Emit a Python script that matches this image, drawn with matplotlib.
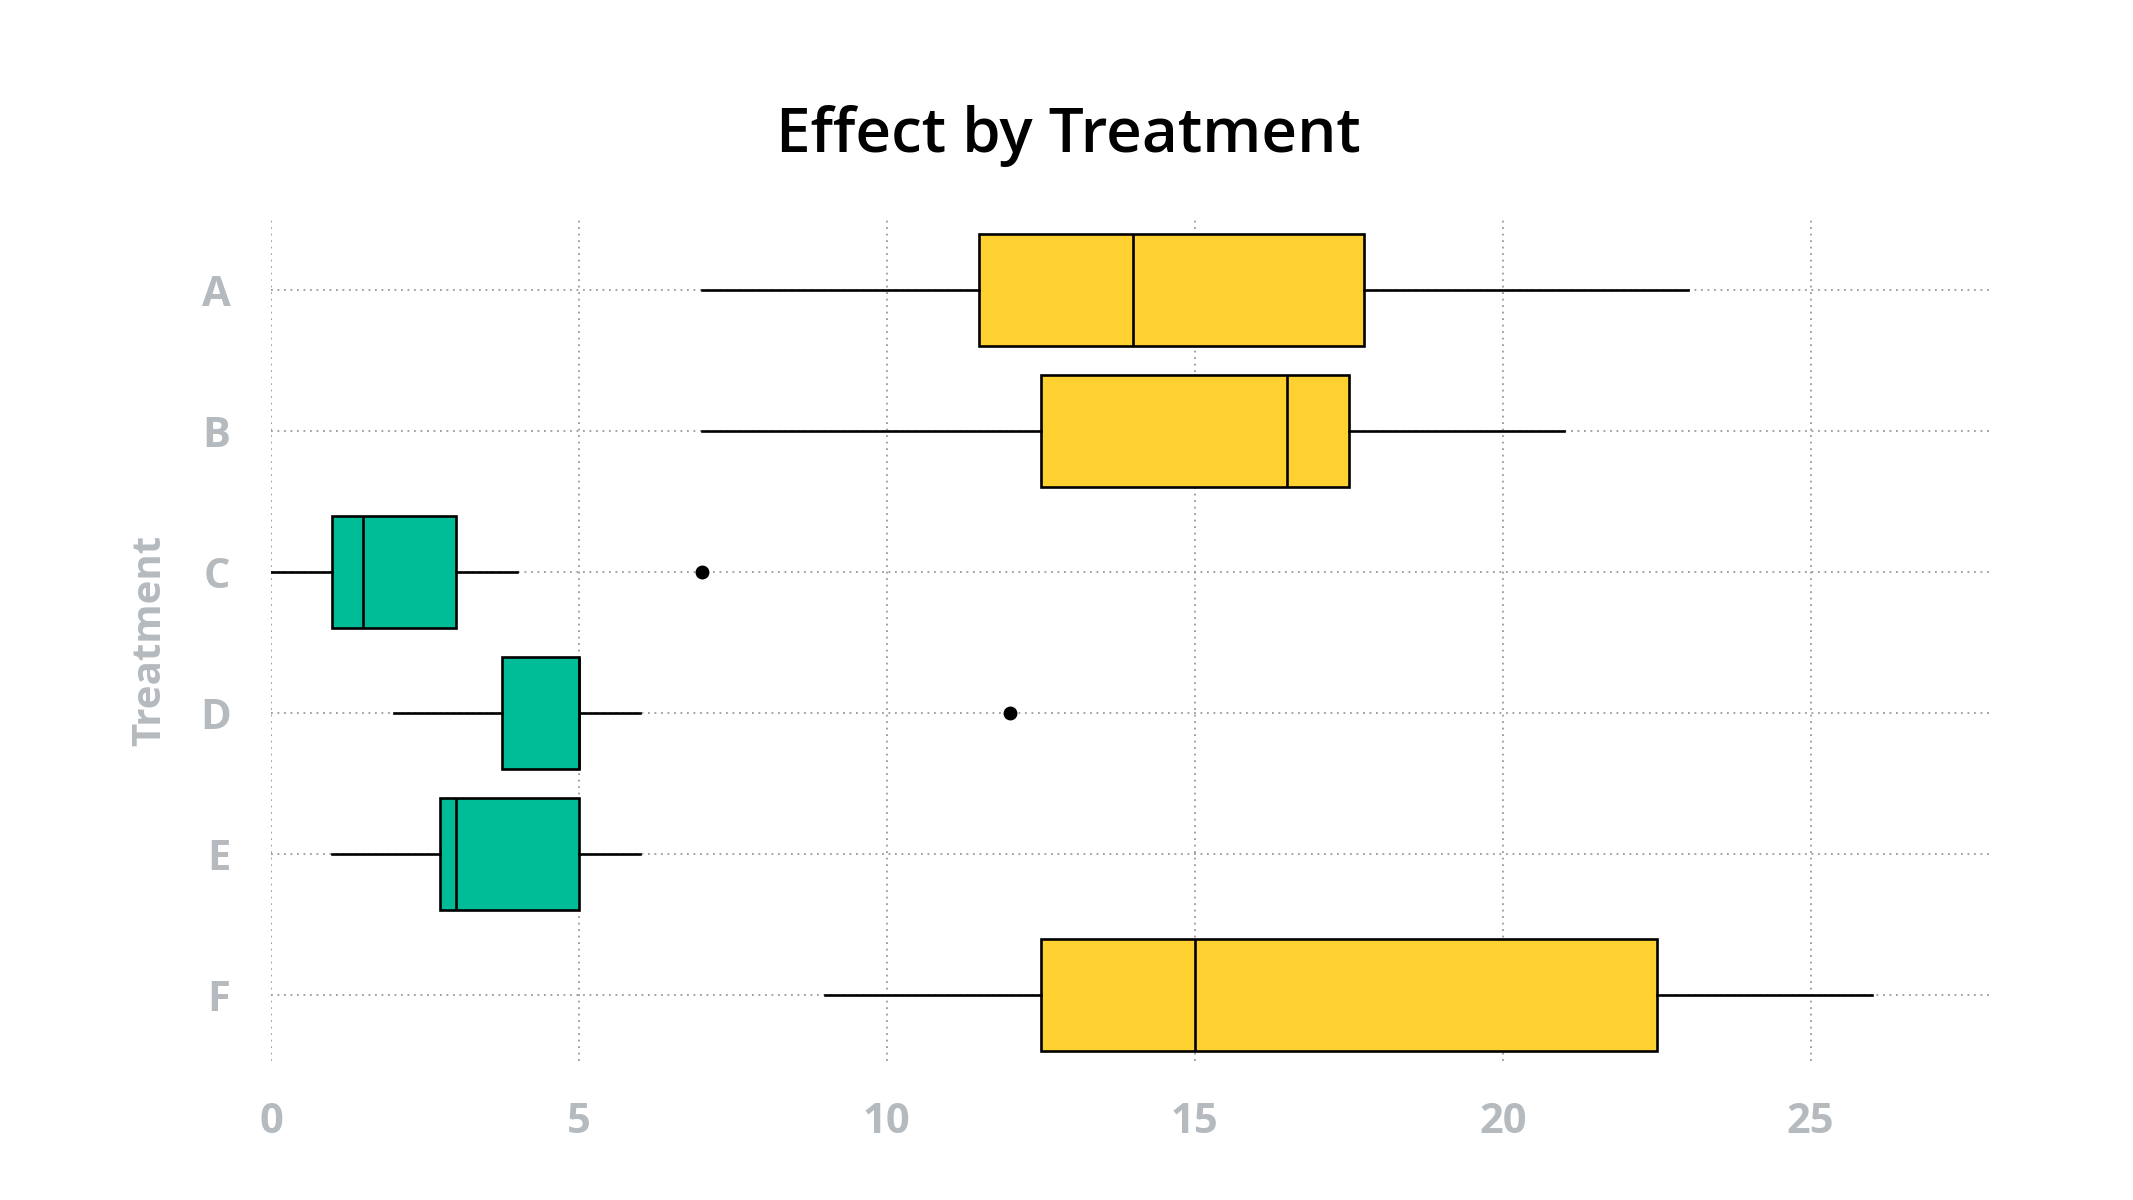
import matplotlib
matplotlib.use("Agg")
import matplotlib.pyplot as plt

# data
treatments = ["A", "B", "C", "D", "E", "F"]
whisk_lo = [7, 7, 0, 2, 1, 9]
q1 = [11.5, 12.5, 1, 3.75, 2.75, 12.5]
median = [14, 16.5, 1.5, 5, 3, 15]
q3 = [17.75, 17.5, 3, 5, 5, 22.5]
whisk_hi = [23, 21, 4, 6, 6, 26]
outliers = [[], [], [7], [12], [], []]
box_colors = ["#fed130", "#fed130", "#00bc97", "#00bc97", "#00bc97", "#fed130"]

tick_grey = "#b5babf"
plt.rcParams['font.family'] = ['Open Sans', 'DejaVu Sans']

fig = plt.figure(figsize=(21.33, 12), dpi=100)
ax = fig.add_axes([0.127, 0.1155, 0.8071, 0.7015])

stats = []
for i, name in enumerate(treatments):
    stats.append(dict(label=name, whislo=whisk_lo[i], q1=q1[i], med=median[i],
                      q3=q3[i], whishi=whisk_hi[i], fliers=outliers[i]))

res = ax.bxp(stats, positions=range(len(treatments)), vert=False, widths=0.79,
             patch_artist=True, showcaps=False,
             boxprops=dict(edgecolor="black", linewidth=1.9),
             medianprops=dict(color="black", linewidth=1.9),
             whiskerprops=dict(color="black", linewidth=1.9),
             flierprops=dict(marker="o", markerfacecolor="black",
                             markeredgecolor="black", markersize=9))
for patch, c in zip(res["boxes"], box_colors):
    patch.set_facecolor(c)
    patch.set_zorder(3)
for key in ["medians", "whiskers", "fliers"]:
    for ln in res[key]:
        ln.set_zorder(4)

ax.set_xlim(0, 27.95)
ax.set_ylim(5.47, -0.5)
ax.set_xticks([0, 5, 10, 15, 20, 25])
ax.set_yticks(range(len(treatments)))
ax.set_yticklabels(treatments)

ax.grid(True, linestyle=(0, (1, 2.6)), linewidth=1.3, color="#9a9a9a", zorder=0)
ax.set_axisbelow(True)
for s in ax.spines.values():
    s.set_visible(False)
ax.tick_params(length=0)
ax.tick_params(axis="x", pad=29, labelsize=30, labelcolor=tick_grey)
ax.tick_params(axis="y", pad=29, labelsize=30, labelcolor=tick_grey)
for lab in ax.get_xticklabels() + ax.get_yticklabels():
    lab.set_fontweight("bold")

ax.set_ylabel("Treatment", fontsize=29, fontweight="bold", color=tick_grey, labelpad=22)
fig.text(0.5008, 0.873, "Effect by Treatment", fontsize=44.6, fontweight="semibold",
         ha="center", va="baseline")

fig.savefig("out.png", dpi=100, facecolor="white")
